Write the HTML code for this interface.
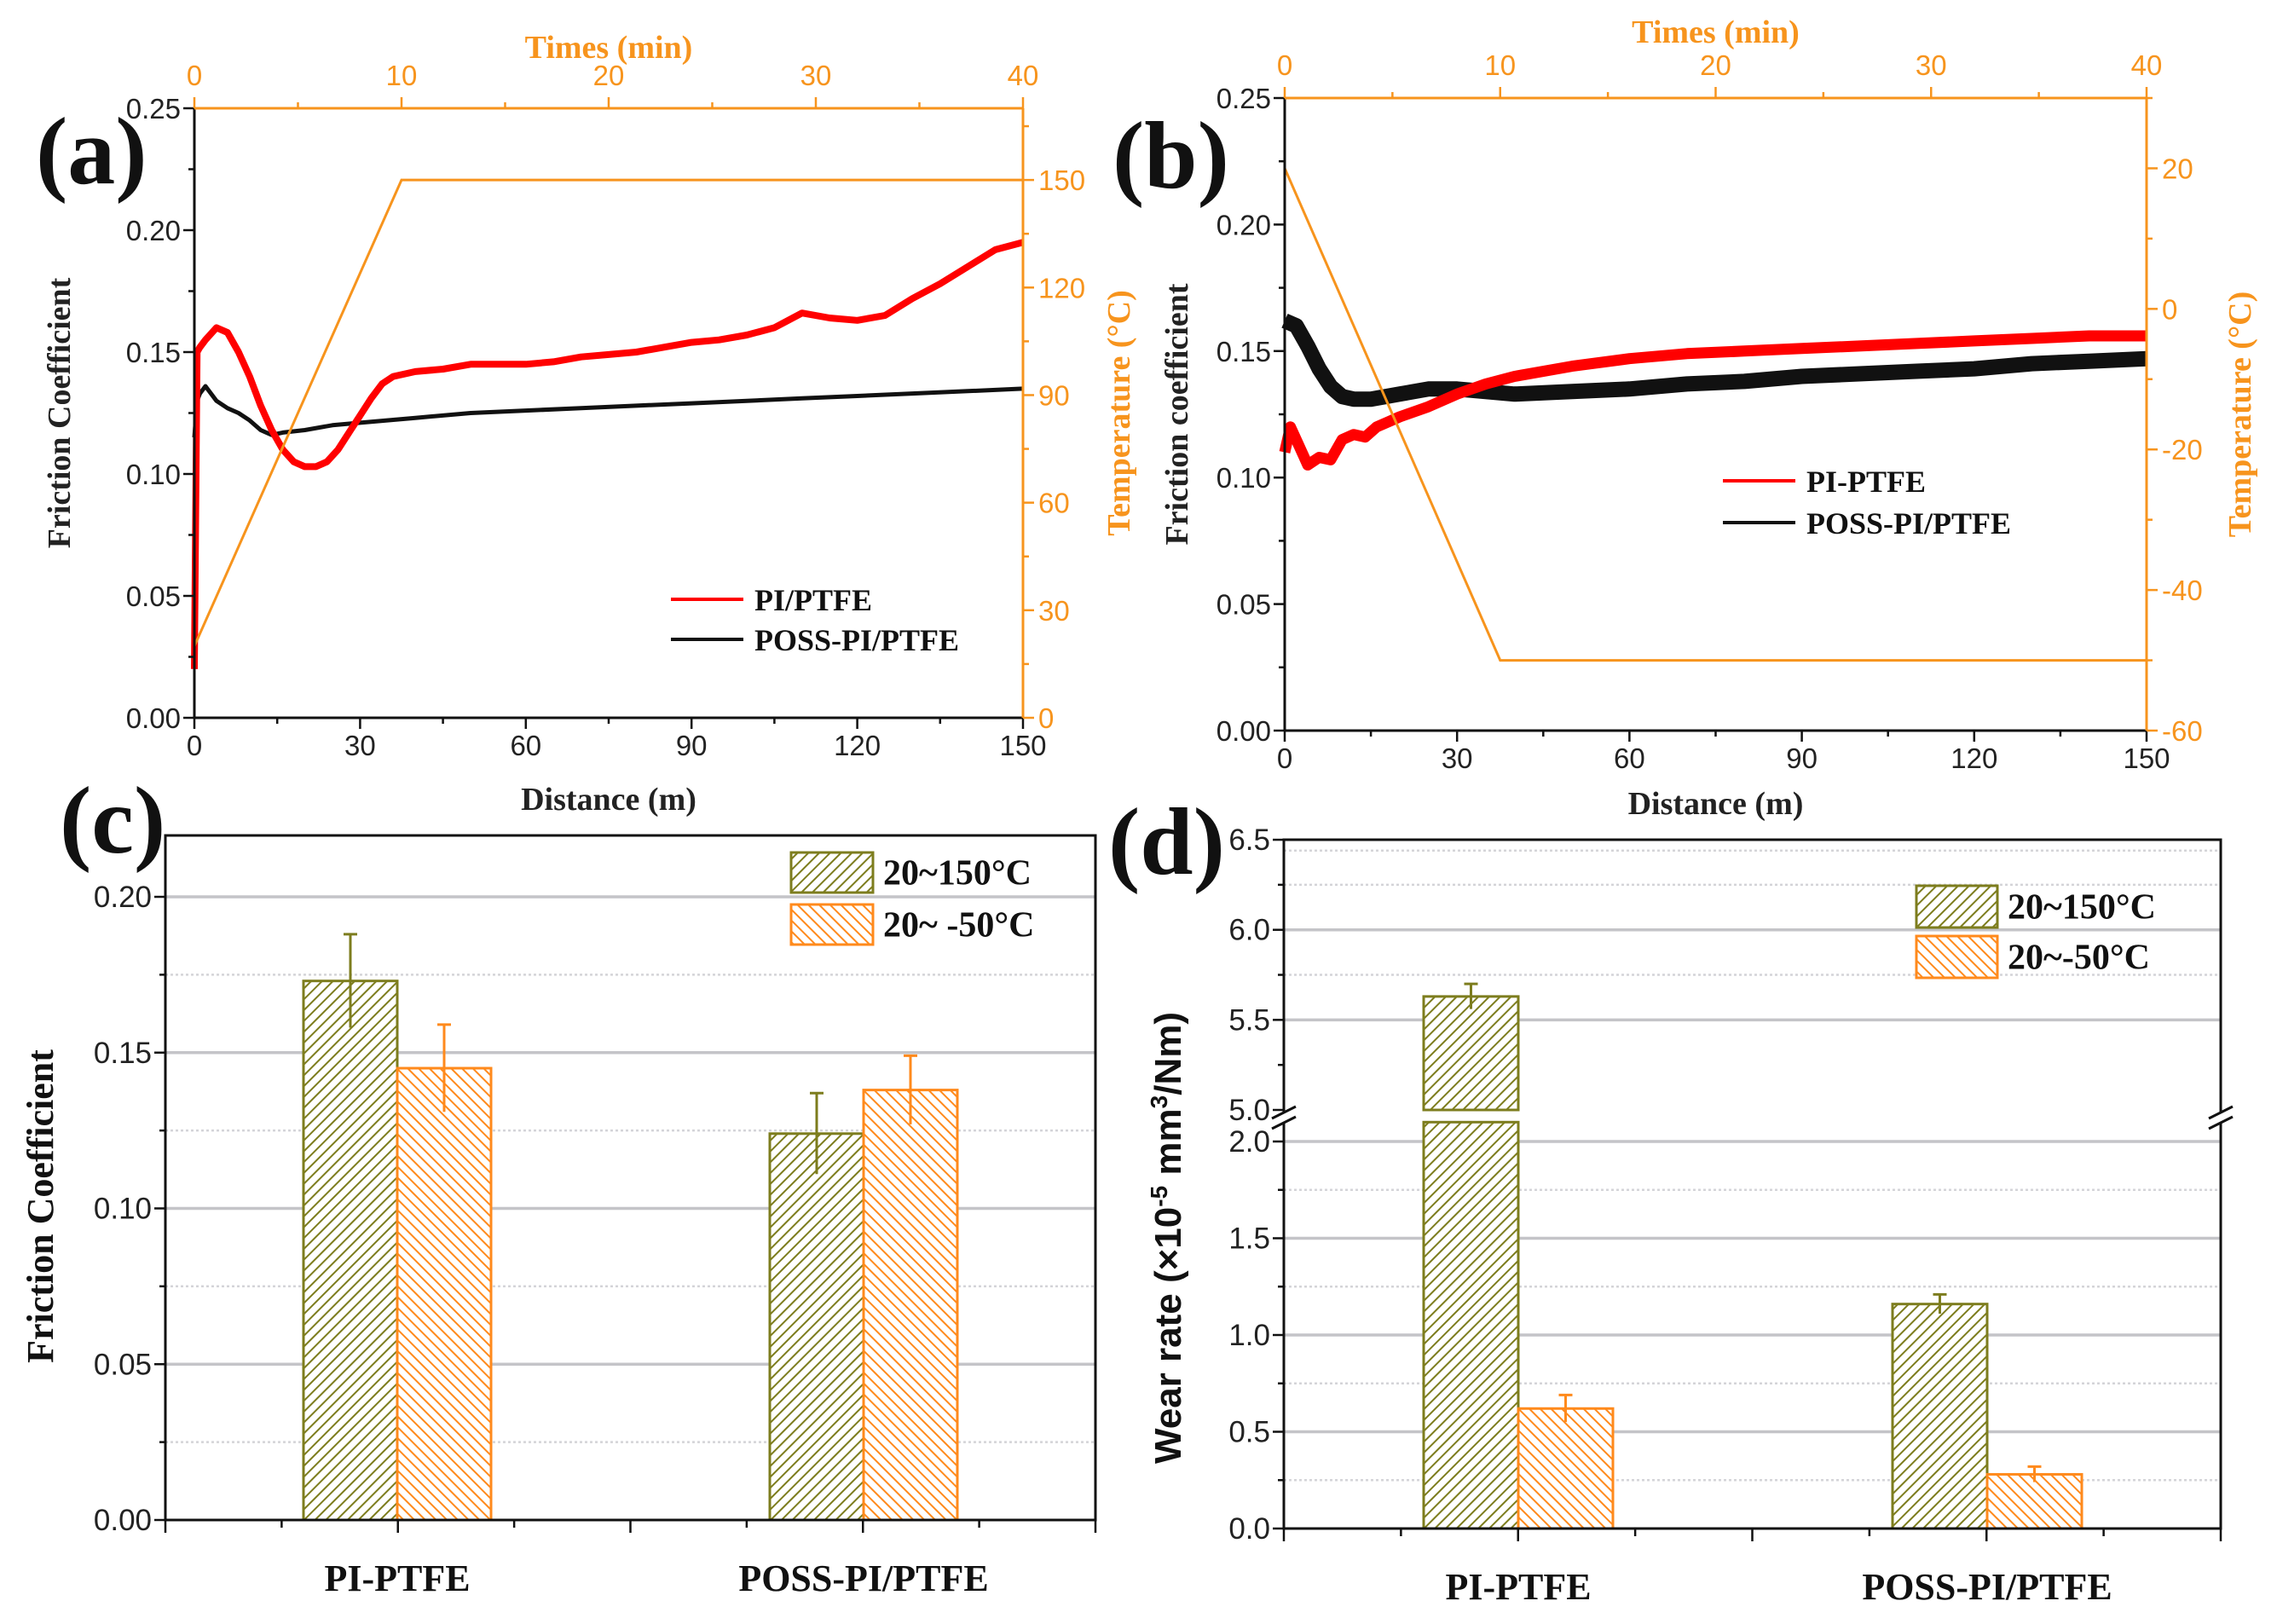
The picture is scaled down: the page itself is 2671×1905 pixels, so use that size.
<!DOCTYPE html>
<html><head><meta charset="utf-8"><style>
html,body{margin:0;padding:0;background:#fff;}
svg{display:block;}
text{font-family:"Liberation Sans",sans-serif;}
.ser{font-family:"Liberation Serif",serif;font-weight:bold;}
</style></head><body>
<svg id="fig" xmlns="http://www.w3.org/2000/svg" width="2671" height="1905" viewBox="0 0 2671 1905">
<defs>
<pattern id="hatchG" patternUnits="userSpaceOnUse" width="9" height="9" patternTransform="rotate(45)">
<rect width="9" height="9" fill="#fff"/><line x1="0" y1="0" x2="0" y2="9" stroke="#7d7d1e" stroke-width="4"/></pattern>
<pattern id="hatchO" patternUnits="userSpaceOnUse" width="9" height="9" patternTransform="rotate(-45)">
<rect width="9" height="9" fill="#fff"/><line x1="0" y1="0" x2="0" y2="9" stroke="#ff8a1c" stroke-width="4"/></pattern>
</defs>
<rect width="2671" height="1905" fill="#fff"/>
</svg>
<script>
// ---------- data: panel (a) ----------
const aDist = [0,0.5,1,2,4,6,8,10,12,14,16,18,20,22,24,26,28,30,32,34,36,40,45,50,55,60,65,70,75,80,85,90,95,100,105,110,115,120,125,130,135,140,145,150];
const aRed  = [0.02,0.15,0.152,0.155,0.16,0.158,0.15,0.14,0.128,0.118,0.11,0.105,0.103,0.103,0.105,0.11,0.117,0.124,0.131,0.137,0.14,0.142,0.143,0.145,0.145,0.145,0.146,0.148,0.149,0.15,0.152,0.154,0.155,0.157,0.16,0.166,0.164,0.163,0.165,0.172,0.178,0.185,0.192,0.195];
const aBlkDist = [0,0.5,1,2,4,6,8,10,12,14,16,20,25,30,40,50,60,70,80,90,100,110,120,130,140,150];
const aBlk  = [0.115,0.13,0.133,0.136,0.13,0.127,0.125,0.122,0.118,0.116,0.117,0.118,0.12,0.121,0.123,0.125,0.126,0.127,0.128,0.129,0.13,0.131,0.132,0.133,0.134,0.135];
const aTimes = [0,10,40];
const aTemps = [20,150,150];
// ---------- data: panel (b) ----------
const bRedDist = [0,1,2,4,6,8,10,12,14,16,18,20,25,30,35,40,50,60,70,80,90,100,110,120,130,140,150];
const bRed = [0.11,0.12,0.115,0.105,0.108,0.107,0.115,0.117,0.116,0.12,0.122,0.124,0.128,0.133,0.137,0.14,0.144,0.147,0.149,0.15,0.151,0.152,0.153,0.154,0.155,0.156,0.156];
const bBlkDist = [0,2,4,6,8,10,12,15,20,25,30,35,40,50,60,70,80,90,100,110,120,130,140,150];
const bBlk = [0.162,0.16,0.152,0.143,0.136,0.132,0.131,0.131,0.133,0.135,0.135,0.134,0.133,0.134,0.135,0.137,0.138,0.14,0.141,0.142,0.143,0.145,0.146,0.147];
const bTimes = [0,10,40];
const bTemps = [20,-50,-50];
// ---------- data: panel (c) ----------
const cCats = ["PI-PTFE","POSS-PI/PTFE"];
const cHot = [0.173,0.124];
const cHotErr = [0.015,0.013];
const cCold = [0.145,0.138];
const cColdErr = [0.014,0.011];
const cTicks = ["0.00","0.05","0.10","0.15","0.20"];
// ---------- data: panel (d) ----------
const dCats = ["PI-PTFE","POSS-PI/PTFE"];
const dHot = [5.63,1.16];
const dHotErr = [0.07,0.05];
const dCold = [0.62,0.28];
const dColdErr = [0.07,0.04];
const dTicksLow = ["0.0","0.5","1.0","1.5","2.0"];
const dTicksHigh = ["5.0","5.5","6.0","6.5"];

const NS="http://www.w3.org/2000/svg";
const svg=document.getElementById('fig');
function mk(tag,attrs,parent){const e=document.createElementNS(NS,tag);for(const k in attrs)e.setAttribute(k,attrs[k]);(parent||svg).appendChild(e);return e;}
function txt(s,attrs,parent){const e=mk('text',attrs,parent);e.textContent=s;return e;}
const OR="#f7941d";

// ---------- line panels ----------
function linePanel(P){
  const g=mk('g',{});
  
  
  const X=d=>P.x0+(d/150)*(P.x1-P.x0);
  const Y=v=>P.y0-(v/0.25)*(P.y0-P.y1);
  const T=t=>P.y0-((t-P.tmin)/(P.tmax-P.tmin))*(P.y0-P.y1);
  const XT=m=>P.x0+(m/40)*(P.x1-P.x0);
  for(const s of P.series){
    const pts=s.d.map((d,i)=>X(d).toFixed(1)+','+Y(s.v[i]).toFixed(1)).join(' ');
    const pl=mk('polyline',{points:pts,fill:'none',stroke:s.c,'stroke-width':s.w,'stroke-linejoin':'round'},g);
    
    
  }
  const tp=P.times.map((m,i)=>XT(m).toFixed(1)+','+T(P.temps[i]).toFixed(1)).join(' ');
  const tl=mk('polyline',{points:tp,fill:'none',stroke:OR,'stroke-width':3},g);
  
  
  const la=mk('line',{x1:P.x0,y1:P.y0,x2:P.x0,y2:P.y1,stroke:'#111','stroke-width':3},g);
  
  
  const ba=mk('line',{x1:P.x0,y1:P.y0,x2:P.x1,y2:P.y0,stroke:'#111','stroke-width':3},g);
  
  
  const ra=mk('line',{x1:P.x1,y1:P.y0,x2:P.x1,y2:P.y1,stroke:OR,'stroke-width':3},g);
  
  
  const ta=mk('line',{x1:P.x0,y1:P.y1,x2:P.x1,y2:P.y1,stroke:OR,'stroke-width':3},g);
  
  
  for(let i=0;i<=10;i++){const v=i*0.025;const y=Y(v);const L=i%2?7:13;
    const t=mk('line',{x1:P.x0-L,y1:y,x2:P.x0,y2:y,stroke:'#111','stroke-width':2.5},g);
    
    
    if(i%2==0){const l=txt(v.toFixed(2),{x:P.x0-16,y:y+12,'font-size':33,'text-anchor':'end',fill:'#222'},g);
      
      }
  }
  for(let i=0;i<=10;i++){const d=i*15;const x=X(d);const L=i%2?7:13;
    const t=mk('line',{x1:x,y1:P.y0,x2:x,y2:P.y0+L,stroke:'#111','stroke-width':2.5},g);
    
    
    if(i%2==0){const l=txt(String(d),{x:x,y:P.y0+44,'font-size':33,'text-anchor':'middle',fill:'#222'},g);
      
      }
  }
  for(let i=0;i<=8;i++){const m=i*5;const x=XT(m);const L=i%2?7:13;
    const t=mk('line',{x1:x,y1:P.y1,x2:x,y2:P.y1-L,stroke:OR,'stroke-width':2.5},g);
    
    
    if(i%2==0){const l=txt(String(m),{x:x,y:P.y1-27,'font-size':33,'text-anchor':'middle',fill:OR},g);
      
      }
  }
  for(let t0=P.tmin;t0<=P.tmax;t0+=P.tminor){const y=T(t0);const major=((t0-P.tmin)%P.tstep)==0;const L=major?13:7;
    const t=mk('line',{x1:P.x1,y1:y,x2:P.x1+L,y2:y,stroke:OR,'stroke-width':2.5},g);
    
    
    if(major&&t0<=P.tlabelMax){const l=txt(String(t0),{x:P.x1+18,y:y+12,'font-size':33,fill:OR},g);
      
      }
  }
  const xt=txt('Distance (m)',{x:(P.x0+P.x1)/2,y:P.xTitleY,'font-size':38,'text-anchor':'middle',fill:'#222',class:'ser'},g);
  
  
  const tt=txt('Times (min)',{x:(P.x0+P.x1)/2,y:P.tTitleY,'font-size':38,'text-anchor':'middle',fill:OR,class:'ser'},g);
  
  
  const yt=txt(P.ytitle,{x:0,y:0,'font-size':38,'text-anchor':'middle',fill:'#222',class:'ser',transform:`translate(${P.yTitleX},${(P.y0+P.y1)/2}) rotate(-90)`},g);
  
  
  const rt=txt('Temperature (°C)',{x:0,y:0,'font-size':38,'text-anchor':'middle',fill:OR,class:'ser',transform:`translate(${P.rTitleX},${(P.y0+P.y1)/2}) rotate(-90)`},g);
  
  
  const pl=txt(P.label,{x:P.labelX,y:P.labelY,'font-size':112,fill:'#111',class:'ser'},g);
  
  
  P.legend.forEach((L,i)=>{const y=P.legY+i*P.legDy;
    const ln=mk('line',{x1:P.legX,y1:y,x2:P.legX+85,y2:y,stroke:L.c,'stroke-width':4},g);
    
    
    const lt=txt(L.t,{x:P.legX+98,y:y+13,'font-size':36,fill:'#111',class:'ser'},g);
    
    
  });
}

linePanel({name:'panel-a',x0:228,x1:1200,y0:842,y1:127,tmin:0,tmax:170,tstep:30,tminor:15,tlabelMax:150,
  times:aTimes,temps:aTemps,
  series:[{d:aBlkDist,v:aBlk,c:'#111',w:5,n:'series-poss-pi-ptfe'},{d:aDist,v:aRed,c:'#f00',w:8,n:'series-pi-ptfe'}],
  xTitleY:950,tTitleY:68,ytitle:'Friction Coefficient',yTitleX:82,rTitleX:1325,label:'(a)',labelX:42,labelY:215,
  legend:[{t:'PI/PTFE',c:'#f00'},{t:'POSS-PI/PTFE',c:'#111'}],legX:787,legY:703,legDy:47});

linePanel({name:'panel-b',x0:1507,x1:2518,y0:857,y1:115,tmin:-60,tmax:30,tstep:20,tminor:10,tlabelMax:20,
  times:bTimes,temps:bTemps,
  series:[{d:bBlkDist,v:bBlk,c:'#111',w:18,n:'series-poss-pi-ptfe'},{d:bRedDist,v:bRed,c:'#f00',w:13,n:'series-pi-ptfe'}],
  xTitleY:955,tTitleY:50,ytitle:'Friction coefficient',yTitleX:1393,rTitleX:2640,label:'(b)',labelX:1305,labelY:220,
  legend:[{t:'PI-PTFE',c:'#f00'},{t:'POSS-PI/PTFE',c:'#111'}],legX:2021,legY:564,legDy:49});

// ---------- bar panels ----------
function barPanel(P){
  const g=mk('g',{});
  
  
  for(const gl of P.grid){const y=P.Y(gl.v);
    const l=mk('line',{x1:P.x0,y1:y,x2:P.x1,y2:y,stroke:gl.major?'#c4c4c8':'#d4d4d8','stroke-width':gl.major?3.5:2.5,'stroke-dasharray':gl.major?'':'3 3'},g);
    
    }
  const cx=i=>P.x0+(P.xc[i]);
  P.cats.forEach((c,i)=>{
    const series=[{v:P.hot[i],e:P.hotErr[i],fill:'url(#hatchG)',col:'#7d7d1e',off:-P.bw,n:'bar-hot-'+i},{v:P.cold[i],e:P.coldErr[i],fill:'url(#hatchO)',col:'#ff8a1c',off:0,n:'bar-cold-'+i}];
    for(const s of series){const x=cx(i)+s.off;
      if(P.brk && s.v>P.brkHigh){
        const r1=mk('rect',{x:x,y:P.Y(P.brkLow),width:P.bw,height:P.y0-P.Y(P.brkLow),fill:s.fill,stroke:s.col,'stroke-width':3},g);
        
        
        const r2=mk('rect',{x:x,y:P.Y(s.v),width:P.bw,height:P.Y(P.brkHigh)-P.Y(s.v),fill:s.fill,stroke:s.col,'stroke-width':3},g);
        
        
      } else {
        const r=mk('rect',{x:x,y:P.Y(s.v),width:P.bw,height:P.y0-P.Y(s.v),fill:s.fill,stroke:s.col,'stroke-width':3},g);
        
        
      }
      const ex=x+P.bw/2;
      const eb=mk('path',{d:`M${ex},${P.Y(s.v-s.e)}V${P.Y(s.v+s.e)}M${ex-8},${P.Y(s.v+s.e)}H${ex+8}`,stroke:s.col,'stroke-width':3,fill:'none'},g);
      
      
    }
    const cl=txt(c,{x:cx(i),y:P.catY,'font-size':44,'text-anchor':'middle',fill:'#111',class:'ser'},g);
    
    
  });
  const fr=mk('rect',{x:P.x0,y:P.y1,width:P.x1-P.x0,height:P.y0-P.y1,fill:'none',stroke:'#111','stroke-width':3},g);
  
  
  if(P.brk){
    for(const ax of [P.x0,P.x1]){
      const w=mk('rect',{x:ax-6,y:P.brkY1,width:12,height:P.brkY2-P.brkY1,fill:'#fff'},g);
      
      
      const m=mk('path',{d:`M${ax-14},${P.brkY1+8}L${ax+14},${P.brkY1-6}M${ax-14},${P.brkY2+6}L${ax+14},${P.brkY2-8}`,stroke:'#111','stroke-width':3},g);
      
      
    }
  }
  for(const tk of P.ticks){const y=P.Y(tk.v);
    const t=mk('line',{x1:P.x0-(tk.lab?13:7),y1:y,x2:P.x0,y2:y,stroke:'#111','stroke-width':2.5},g);
    
    
    if(tk.lab){const l=txt(tk.lab,{x:P.x0-16,y:y+12,'font-size':35,'text-anchor':'end',fill:'#222'},g);
      
      }
  }
  for(let k=0;k<=8;k++){const x=P.x0+k*(P.x1-P.x0)/8;const L=k%2?9:15;
    const t=mk('line',{x1:x,y1:P.y0,x2:x,y2:P.y0+L,stroke:'#111','stroke-width':2.5},g);
    
    }
  [{t:P.leg[0],f:'url(#hatchG)',c:'#7d7d1e'},{t:P.leg[1],f:'url(#hatchO)',c:'#ff8a1c'}].forEach((L,i)=>{
    const y=P.legY+i*P.legDy;
    const b=mk('rect',{x:P.legX,y:y,width:P.legW,height:P.legH,fill:L.f,stroke:L.c,'stroke-width':3},g);
    
    
    const lt=txt(L.t,{x:P.legX+P.legW+12,y:y+P.legH/2+14,'font-size':42,fill:'#111',class:'ser'},g);
    
    
  });
  const yt=txt(P.ytitle,{x:0,y:0,'font-size':P.ytSize,'text-anchor':'middle',fill:'#111',class:P.ytClass,'font-weight':'bold',transform:`translate(${P.yTitleX},${P.yTitleY}) rotate(-90)`},g);
  
  
  if(P.ytitleSup){yt.textContent='';
    const a=mk('tspan',{},yt);a.textContent='Wear rate (×10';
    const b=mk('tspan',{dy:-16,'font-size':28},yt);b.textContent='-5';
    const c=mk('tspan',{dy:16},yt);c.textContent=' mm';
    const d=mk('tspan',{dy:-16,'font-size':28},yt);d.textContent='3';
    const e=mk('tspan',{dy:16},yt);e.textContent='/Nm)';}
  const pl=txt(P.label,{x:P.labelX,y:P.labelY,'font-size':112,fill:'#111',class:'ser'},g);
  
  
}

const cY=v=>1783-v*3655;
const cGrid=[];for(let k=1;k<=8;k++)cGrid.push({v:k*0.025,major:k%2==0});
const cTk=[];for(let k=0;k<=8;k++)cTk.push({v:k*0.025,lab:k%2==0?cTicks[k/2]:''});
barPanel({name:'panel-c',x0:194,x1:1285,y0:1783,y1:980,Y:cY,grid:cGrid,ticks:cTk,
  cats:cCats,hot:cHot,hotErr:cHotErr,cold:cCold,coldErr:cColdErr,xc:[272,819],bw:110,catY:1866,
  leg:['20~150°C','20~ -50°C'],legX:928,legY:1000,legDy:61,legW:96,legH:47,
  ytitle:'Friction Coefficient',ytSize:44,ytClass:'ser',yTitleX:62,yTitleY:1415,label:'(c)',labelX:70,labelY:1000});

const dY=v=>v<=2.2?1793-v*227:1302-(v-5)*211.3;
const dGrid=[{v:0.25,major:0},{v:0.5,major:1},{v:0.75,major:0},{v:1,major:1},{v:1.25,major:0},{v:1.5,major:1},{v:1.75,major:0},{v:2,major:1},{v:5.5,major:1},{v:5.75,major:0},{v:6,major:1},{v:6.25,major:0},{v:6.44,major:0}];
const dTk=[];for(let k=0;k<=8;k++)dTk.push({v:k*0.25,lab:k%2==0?dTicksLow[k/2]:''});
for(let k=0;k<=6;k++)dTk.push({v:5+k*0.25,lab:k%2==0?dTicksHigh[k/2]:''});
barPanel({name:'panel-d',x0:1506,x1:2605,y0:1793,y1:985,Y:dY,grid:dGrid,ticks:dTk,brk:true,brkLow:2.1,brkHigh:5.0,brkY1:1304,brkY2:1318,
  cats:dCats,hot:dHot,hotErr:dHotErr,cold:dCold,coldErr:dColdErr,xc:[275,825],bw:111,catY:1876,
  leg:['20~150°C','20~-50°C'],legX:2248,legY:1039,legDy:59,legW:95,legH:49,
  ytitle:'Wear rate',ytitleSup:true,ytSize:44,ytClass:'',yTitleX:1385,yTitleY:1452,label:'(d)',labelX:1300,labelY:1025});
</script>
</body></html>
